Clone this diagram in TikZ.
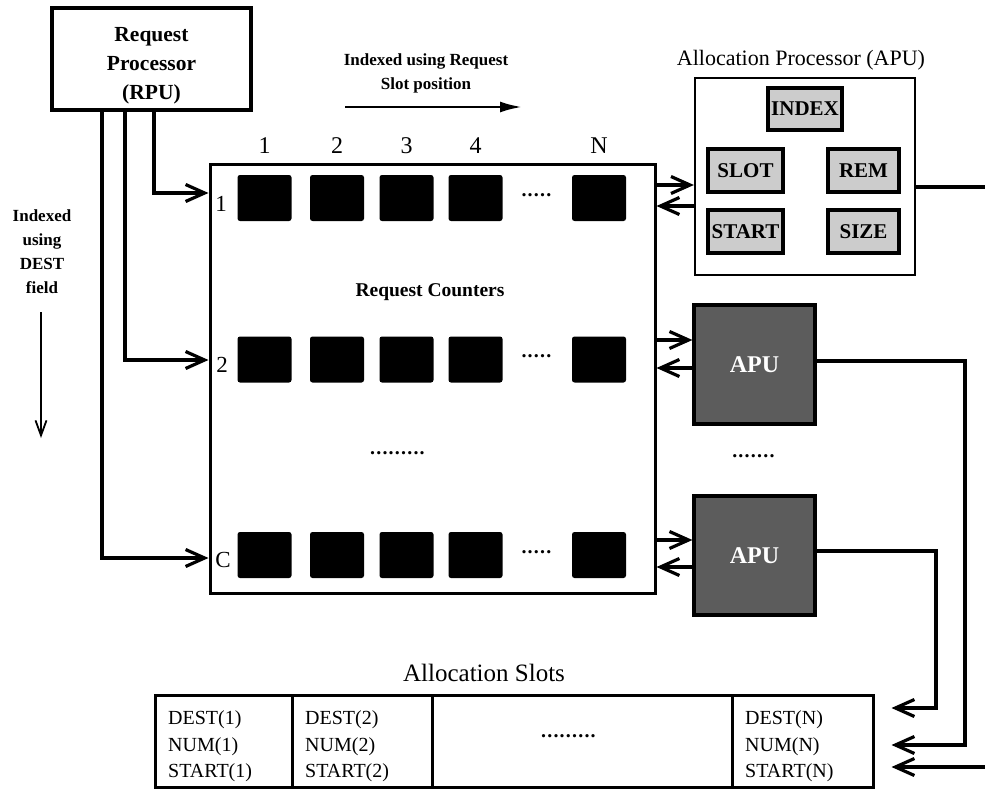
\documentclass[tikz,border=0pt]{standalone}
\usepackage{fontspec}
\setmainfont{Liberation Serif}
\usetikzlibrary{arrows.meta}
\newcommand\fsz[2]{\fontsize{#1pt}{#2pt}\selectfont}
\newcommand\dotsrow[1]{\foreach \k in {1,...,#1}{.\kern1.2pt}\unskip}
\begin{document}
\begin{tikzpicture}[x=1pt,y=-1pt,
  conn/.style={line width=3.2pt},
  barb/.style={conn,-{Straight Barb[length=19pt,width=17pt]}},
  box/.style={draw,line width=3pt,rectangle,inner sep=0pt},
  counter/.style={fill=black,rounded corners=2.5pt,minimum width=54pt,minimum height=46pt,inner sep=0pt},
  reg/.style={draw,line width=3.8pt,fill=black!20,minimum height=43pt,inner sep=0pt,
    font=\fsz{21}{21}\bfseries},
  apubox/.style={draw,line width=3.2pt,fill=black!64,minimum width=121pt,minimum height=119pt,
    inner sep=0pt,text=white,font=\fsz{24}{24}\bfseries},
  cell/.style={draw,line width=3pt,minimum height=92pt,inner sep=0pt},
  celltext/.style={anchor=west,align=left,inner sep=0pt,font=\fsz{20}{26.5}},
  collabel/.style={font=\fsz{24}{24}},
  rowlabel/.style={font=\fsz{23}{23}},
  dotsnode/.style={inner sep=0pt,font=\fsz{20}{20}\bfseries},
  note/.style={align=center,font=\fsz{17}{24}\bfseries}
]
\useasboundingbox (0,0) rectangle (985,789);

% ---------- request processor ----------
\node[box,line width=3.2pt,minimum width=199pt,minimum height=102pt] (rpu) at (151.5,59) {};
\node[align=center,font=\fsz{21.5}{29}\bfseries] (rputext) at (151.5,66) {Request\\Processor\\(RPU)};

% ---------- request counter array ----------
\node[box,minimum width=445pt,minimum height=429pt] (main) at (432.5,378.5) {};
\node[font=\fsz{19.5}{19.5}\bfseries] (rctext) at (430,292) {Request Counters};

\foreach \c/\x/\t in {c1/264.5/1,c2/337/2,c3/406.5/3,c4/475.5/4,cN/599/N}{
  \node[collabel] (col\c) at (\x,146) {\t};
}
\foreach \r/\y in {r1/198,r2/359.5,rC/555}{
  \foreach \c/\x in {a/264.5,b/337,c/406.5,d/475.5,n/599}{
    \node[counter] (\r\c) at (\x,\y) {};
  }
  \node[dotsnode] (\r dots) at (537,\y-3) {\dotsrow{5}};
}
\node[rowlabel] (lab1) at (221,204) {1};
\node[rowlabel] (lab2) at (222,365) {2};
\node[rowlabel] (labC) at (223,560) {C};
\node[dotsnode] (middots) at (398,453) {\dotsrow{9}};

% ---------- allocation processors ----------
\node[font=\fsz{22}{22}] (aputitle) at (801,60) {Allocation Processor (APU)};
\node[box,line width=2.2pt,minimum width=220pt,minimum height=197pt] (apu1) at (805,176.5) {};
\node[reg,minimum width=74pt,minimum height=42pt] (rindex) at (805,109) {INDEX};
\node[reg,minimum width=75pt] (rslot) at (745.5,170.5) {SLOT};
\node[reg,minimum width=71pt] (rrem) at (863.5,170.5) {REM};
\node[reg,minimum width=75pt] (rstart) at (745.5,231.5) {START};
\node[reg,minimum width=71pt] (rsize) at (863.5,231.5) {SIZE};

\node[apubox] (apu2) at (754.5,364.5) {APU};
\node[apubox] (apu3) at (754.5,555.5) {APU};
\node[dotsnode] (apudots) at (754,456) {\dotsrow{7}};

% ---------- allocation slots ----------
\node[font=\fsz{25}{25}] (slotstitle) at (484,673) {Allocation Slots};
\node[cell,minimum width=137pt] (s1) at (223.5,741) {};
\node[cell,minimum width=140pt] (s2) at (362,741) {};
\node[cell,minimum width=300pt] (sd) at (582,741) {};
\node[cell,minimum width=141pt] (sN) at (802.5,741) {};
\node[celltext] (s1text) at (168,746.5) {DEST(1)\\NUM(1)\\START(1)};
\node[celltext] (s2text) at (305,746.5) {DEST(2)\\NUM(2)\\START(2)};
\node[celltext] (sNtext) at (745,746.5) {DEST(N)\\NUM(N)\\START(N)};
\node[dotsnode] (sdots) at (569,736) {\dotsrow{9}};

% ---------- indexing notes ----------
\node[note] (hnote) at (426,73.5) {Indexed using Request\\Slot position};
\coordinate (ha) at (345,107);
\coordinate (hb) at (522,107);
\draw[line width=2.6pt,-{Latex[length=22pt,width=11pt]}] (ha) -- (hb);

\node[note] (vnote) at (42,252) {Indexed\\using\\DEST\\field};
\coordinate (va) at (41,312);
\coordinate (vb) at (41,438);
\draw[line width=1.8pt,-{Straight Barb[length=15pt,width=11pt]}] (va) -- (vb);

% ---------- RPU to counter rows ----------
\coordinate (rx1) at (154,0);
\coordinate (rx2) at (125,0);
\coordinate (rx3) at (102,0);
\coordinate (ry1) at (0,193);
\coordinate (ry2) at (0,360);
\coordinate (ryC) at (0,558);
\draw[barb] (rpu.south -| rx1) |- (main.west |- ry1);
\draw[barb] (rpu.south -| rx2) |- (main.west |- ry2);
\draw[barb] (rpu.south -| rx3) |- (main.west |- ryC);

% ---------- counters <-> APUs ----------
\coordinate (a1i) at (0,185);
\coordinate (a1o) at (0,206);
\coordinate (a2i) at (0,340);
\coordinate (a2o) at (0,368);
\coordinate (a3i) at (0,540);
\coordinate (a3o) at (0,567);
\draw[barb] (main.east |- a1i) -- (apu1.west |- a1i);
\draw[barb] (apu1.west |- a1o) -- (main.east |- a1o);
\draw[barb] (main.east |- a2i) -- (apu2.west |- a2i);
\draw[barb] (apu2.west |- a2o) -- (main.east |- a2o);
\draw[barb] (main.east |- a3i) -- (apu3.west |- a3i);
\draw[barb] (apu3.west |- a3o) -- (main.east |- a3o);

% ---------- APUs to allocation slot N ----------
\coordinate (e1) at (985,187);
\draw[conn] (apu1.east |- e1) -- (e1);
\coordinate (e2) at (985,767);
\draw[barb,shorten >=17pt] (e2) -- (sN.east |- e2);
\coordinate (k2) at (965,361);
\coordinate (t2) at (0,745);
\draw[barb,shorten >=17pt] (apu2.east |- k2) -- (k2) |- (sN.east |- t2);
\coordinate (k3) at (936,551);
\coordinate (t3) at (0,708);
\draw[barb,shorten >=17pt] (apu3.east |- k3) -- (k3) |- (sN.east |- t3);
\end{tikzpicture}
\end{document}
